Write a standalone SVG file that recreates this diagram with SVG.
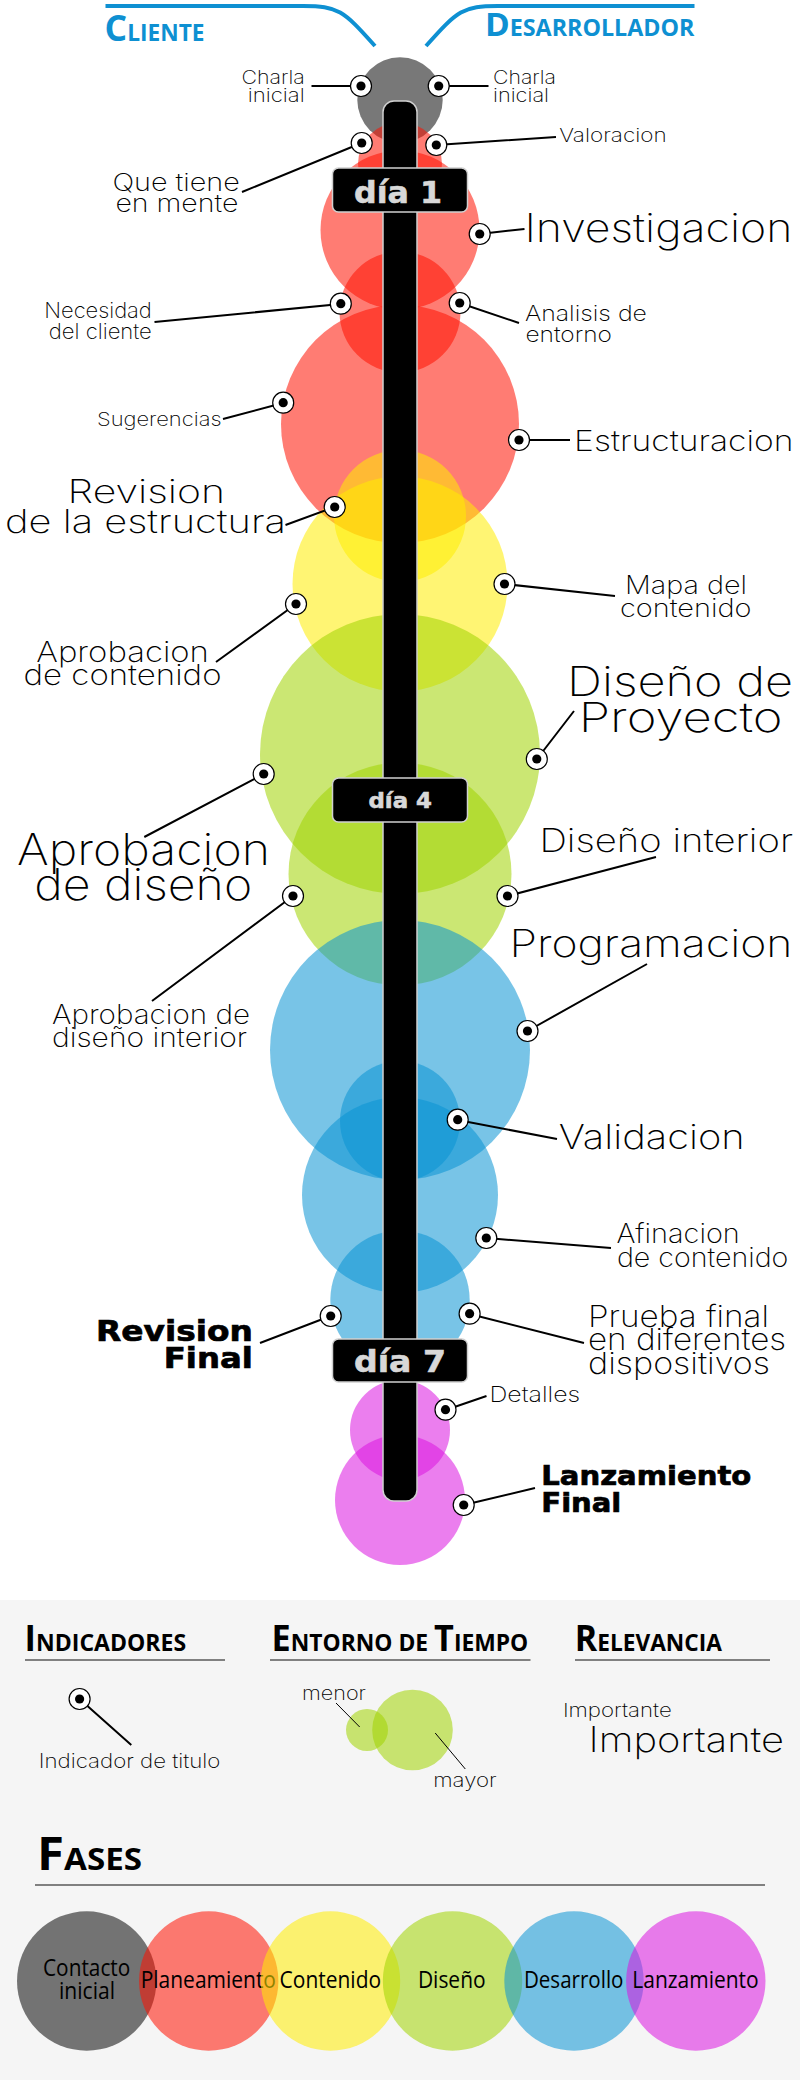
<svg xmlns="http://www.w3.org/2000/svg" width="800" height="2080" viewBox="0 0 800 2080">
<style>
text{font-family:"Inter","Liberation Sans",sans-serif;font-weight:200;fill:#000}
.h{font-family:"Open Sans","Liberation Sans",sans-serif;font-weight:700;fill:#000}
.top{fill:#0e90d2}
.b{font-family:"DejaVu Sans",sans-serif;font-weight:700;fill:#000;stroke:#000;stroke-width:.7}
.d{font-family:"DejaVu Sans",sans-serif;font-weight:700;fill:#d8d8d8;stroke:#d8d8d8;stroke-width:.6}
.f{font-family:"Open Sans","Liberation Sans",sans-serif;font-weight:400;fill:#000;font-size:24px}
.r{fill:#ff1100;fill-opacity:.55}.y{fill:#ffec00;fill-opacity:.55}.g{fill:#a0d400;fill-opacity:.55}.bl{fill:#0a93d3;fill-opacity:.55}.p{fill:#da14e0;fill-opacity:.55}.k{fill:#000;fill-opacity:.53}
.l{stroke:#000;stroke-width:2;fill:none}
.t{stroke:#000;stroke-width:1;fill:none}
.rule{stroke:#808080;stroke-width:2}
.pill{fill:#000;stroke:#d0d0d0;stroke-width:1.5}
</style>
<defs><g id="m"><circle r="10.5" fill="#fff" stroke="#000" stroke-width="1.2"/><circle r="4.600" fill="#000"/></g></defs>

<rect id="legend-panel" x="0" y="1600" width="800" height="480" fill="#f5f5f5"/>

<g id="phase-circles">
<circle class="k" cx="400" cy="100" r="42.700"/>
<circle class="r" cx="400" cy="164" r="42"/>
<circle class="r" cx="400" cy="230" r="79.500"/>
<circle class="r" cx="400" cy="312" r="60.500"/>
<circle class="r" cx="400" cy="424" r="119"/>
<circle class="y" cx="400" cy="516" r="66"/>
<circle class="y" cx="400" cy="584" r="107.500"/>
<circle class="g" cx="400" cy="754" r="140"/>
<circle class="g" cx="400" cy="874" r="111.500"/>
<circle class="bl" cx="400" cy="1050" r="130"/>
<circle class="bl" cx="400" cy="1121" r="60"/>
<circle class="bl" cx="400" cy="1195" r="98"/>
<circle class="bl" cx="400" cy="1300" r="69.700"/>
<circle class="p" cx="400" cy="1430" r="50"/>
<circle class="p" cx="400" cy="1500" r="65"/>
</g>

<g id="timeline">
<rect x="383" y="101" width="34" height="1400" rx="11" fill="#000" stroke="#d0d0d0" stroke-width="1.5"/>
</g>

<g id="connectors">
<path d="M105.500 6H303C338 6 343 10 375 46" fill="none" stroke="#0e90d2" stroke-width="4"/>
<path d="M426 46C458 10 463 6 498 6H694.500" fill="none" stroke="#0e90d2" stroke-width="4"/>
<path class="l" d="M311.500 86H361M438.700 86H488.500M242 192L361.500 143M436.300 145L556 137M479.600 234L524.500 229M154.500 322L340.500 304M459.700 303L519 323M223 419L283 403M519 440H570M334.500 507L285.500 525M504.500 584L615 596M296 604L216 662M537 759L574 711M263.700 774L144.300 837M507.500 896L656 857M293 896L152 1001M527.500 1031L647 964M457.700 1120L557 1139M486.500 1238L611 1248M330.500 1316L260 1343M469.600 1314L584 1343M445.700 1410L486.500 1396M463.700 1505L535 1488M79.600 1699L131.300 1745"/>
</g>

<g id="cliente"><text class="h top" x="104.500" y="41" textLength="100" lengthAdjust="spacingAndGlyphs" font-size="23"><tspan font-size="36">C</tspan>LIENTE</text></g>
<g id="desarrollador"><text class="h top" x="485" y="36" textLength="209.500" lengthAdjust="spacingAndGlyphs" font-size="23"><tspan font-size="33">D</tspan>ESARROLLADOR</text></g>

<g id="dia-1"><rect class="pill" x="332.500" y="168" width="135" height="44" rx="6"/><text class="d" x="354" y="202.500" font-size="30" textLength="88" lengthAdjust="spacingAndGlyphs">día 1</text></g>
<g id="dia-4"><rect class="pill" x="332.500" y="778" width="135" height="44" rx="6"/><text class="d" x="368.500" y="808" font-size="21" textLength="63.500" lengthAdjust="spacingAndGlyphs">día 4</text></g>
<g id="dia-7"><rect class="pill" x="332.500" y="1339" width="135" height="43" rx="6"/><text class="d" x="354" y="1372" font-size="30" textLength="92" lengthAdjust="spacingAndGlyphs">día 7</text></g>

<g id="n-charla-l"><use href="#m" x="361" y="86"/><text x="241.500" y="84" font-size="19" textLength="63.300" lengthAdjust="spacingAndGlyphs">Charla</text><text x="247.700" y="101.700" font-size="19" textLength="57" lengthAdjust="spacingAndGlyphs">inicial</text></g>
<g id="n-charla-r"><use href="#m" x="438.700" y="86"/><text x="493" y="84" font-size="19" textLength="63" lengthAdjust="spacingAndGlyphs">Charla</text><text x="493" y="101.700" font-size="19" textLength="56" lengthAdjust="spacingAndGlyphs">inicial</text></g>
<g id="n-que-tiene"><use href="#m" x="361.700" y="143"/><text x="112.400" y="191" font-size="24" textLength="127.400" lengthAdjust="spacingAndGlyphs">Que tiene</text><text x="115.400" y="212" font-size="24" textLength="123" lengthAdjust="spacingAndGlyphs">en mente</text></g>
<g id="n-valoracion"><use href="#m" x="436.300" y="145"/><text x="559.200" y="142.300" font-size="19" textLength="107.500" lengthAdjust="spacingAndGlyphs">Valoracion</text></g>
<g id="n-investigacion"><use href="#m" x="479.700" y="234"/><text x="524.400" y="241.700" font-size="39" textLength="268" lengthAdjust="spacingAndGlyphs">Investigacion</text></g>
<g id="n-necesidad"><use href="#m" x="340.800" y="303.700"/><text x="44.300" y="318" font-size="21" textLength="107.500" lengthAdjust="spacingAndGlyphs">Necesidad</text><text x="48.800" y="339" font-size="21" textLength="103" lengthAdjust="spacingAndGlyphs">del cliente</text></g>
<g id="n-analisis"><use href="#m" x="459.700" y="303"/><text x="524.900" y="321.300" font-size="22" textLength="122" lengthAdjust="spacingAndGlyphs">Analisis de</text><text x="525.400" y="342" font-size="22" textLength="86.600" lengthAdjust="spacingAndGlyphs">entorno</text></g>
<g id="n-sugerencias"><use href="#m" x="283.200" y="402.700"/><text x="97" y="426" font-size="19" textLength="124.500" lengthAdjust="spacingAndGlyphs">Sugerencias</text></g>
<g id="n-estructuracion"><use href="#m" x="519" y="440"/><text x="574.100" y="450.700" font-size="29" textLength="219.400" lengthAdjust="spacingAndGlyphs">Estructuracion</text></g>
<g id="n-revision"><use href="#m" x="334.700" y="507"/><text x="67.600" y="503" font-size="33" textLength="157.500" lengthAdjust="spacingAndGlyphs">Revision</text><text x="5" y="533" font-size="33" textLength="281" lengthAdjust="spacingAndGlyphs">de la estructura</text></g>
<g id="n-mapa"><use href="#m" x="504.500" y="584"/><text x="625" y="594" font-size="25" textLength="122" lengthAdjust="spacingAndGlyphs">Mapa del</text><text x="620" y="617" font-size="25" textLength="131.500" lengthAdjust="spacingAndGlyphs">contenido</text></g>
<g id="n-aprob-contenido"><use href="#m" x="296" y="604"/><text x="36.300" y="661.700" font-size="28" textLength="172.600" lengthAdjust="spacingAndGlyphs">Aprobacion</text><text x="23.500" y="685" font-size="28" textLength="198" lengthAdjust="spacingAndGlyphs">de contenido</text></g>
<g id="n-diseno-proyecto"><use href="#m" x="536.800" y="759"/><text x="567.100" y="696" font-size="41" textLength="226" lengthAdjust="spacingAndGlyphs">Diseño de</text><text x="578.700" y="731.700" font-size="41" textLength="204" lengthAdjust="spacingAndGlyphs">Proyecto</text></g>
<g id="n-aprob-diseno"><use href="#m" x="263.700" y="774"/><text x="17" y="865" font-size="43" textLength="253" lengthAdjust="spacingAndGlyphs">Aprobacion</text><text x="34.200" y="900" font-size="43" textLength="218" lengthAdjust="spacingAndGlyphs">de diseño</text></g>
<g id="n-diseno-interior"><use href="#m" x="507.500" y="896"/><text x="539.400" y="851.700" font-size="33" textLength="253.600" lengthAdjust="spacingAndGlyphs">Diseño interior</text></g>
<g id="n-aprob-interior"><use href="#m" x="293" y="896"/><text x="52" y="1024" font-size="27" textLength="198" lengthAdjust="spacingAndGlyphs">Aprobacion de</text><text x="52" y="1047" font-size="27" textLength="195" lengthAdjust="spacingAndGlyphs">diseño interior</text></g>
<g id="n-programacion"><use href="#m" x="527.500" y="1031"/><text x="509.400" y="957" font-size="38" textLength="283" lengthAdjust="spacingAndGlyphs">Programacion</text></g>
<g id="n-validacion"><use href="#m" x="457.700" y="1119.700"/><text x="558.700" y="1149" font-size="34" textLength="186" lengthAdjust="spacingAndGlyphs">Validacion</text></g>
<g id="n-afinacion"><use href="#m" x="486.300" y="1238"/><text x="616.400" y="1242.700" font-size="27" textLength="123.400" lengthAdjust="spacingAndGlyphs">Afinacion</text><text x="616.900" y="1266.700" font-size="27" textLength="171.500" lengthAdjust="spacingAndGlyphs">de contenido</text></g>
<g id="n-revision-final"><use href="#m" x="330.700" y="1316"/><text class="b" x="96" y="1341" font-size="29" textLength="156.800" lengthAdjust="spacingAndGlyphs">Revision</text><text class="b" x="163.800" y="1368" font-size="29" textLength="89" lengthAdjust="spacingAndGlyphs">Final</text></g>
<g id="n-prueba"><use href="#m" x="469.600" y="1313.700"/><text x="588" y="1326.700" font-size="30" textLength="181" lengthAdjust="spacingAndGlyphs">Prueba final</text><text x="588" y="1350" font-size="30" textLength="198" lengthAdjust="spacingAndGlyphs">en diferentes</text><text x="588" y="1374" font-size="30" textLength="182" lengthAdjust="spacingAndGlyphs">dispositivos</text></g>
<g id="n-detalles"><use href="#m" x="445.500" y="1409.700"/><text x="489.500" y="1402" font-size="21" textLength="90.600" lengthAdjust="spacingAndGlyphs">Detalles</text></g>
<g id="n-lanzamiento"><use href="#m" x="463.700" y="1505"/><text class="b" x="541.300" y="1485" font-size="27" textLength="210" lengthAdjust="spacingAndGlyphs">Lanzamiento</text><text class="b" x="541.300" y="1511.700" font-size="27" textLength="80" lengthAdjust="spacingAndGlyphs">Final</text></g>

<g id="legend-indicadores">
<line class="rule" x1="25" y1="1660" x2="225" y2="1660"/>
<text class="h" x="24.600" y="1650.700" font-size="24" textLength="161.500" lengthAdjust="spacingAndGlyphs"><tspan font-size="36">I</tspan>NDICADORES</text>
<use href="#m" x="79.600" y="1699"/>
<text x="38.800" y="1768" font-size="20" textLength="181.500" lengthAdjust="spacingAndGlyphs">Indicador de titulo</text>
</g>
<g id="legend-entorno">
<line class="rule" x1="270" y1="1660" x2="530.500" y2="1660"/>
<text class="h" x="271.600" y="1650.700" font-size="24" textLength="256.700" lengthAdjust="spacingAndGlyphs"><tspan font-size="36">E</tspan>NTORNO DE <tspan font-size="36">T</tspan>IEMPO</text>
<circle class="g" cx="367" cy="1730" r="21"/>
<circle class="g" cx="412.500" cy="1730" r="40.300"/>
<path class="t" d="M336 1703L359.700 1727M435.200 1733L465.300 1769"/>
<text x="302" y="1700" font-size="19" textLength="64" lengthAdjust="spacingAndGlyphs">menor</text>
<text x="433.200" y="1787" font-size="19" textLength="63.500" lengthAdjust="spacingAndGlyphs">mayor</text>
</g>
<g id="legend-relevancia">
<line class="rule" x1="575" y1="1660" x2="770" y2="1660"/>
<text class="h" x="574.800" y="1650.700" font-size="24" textLength="147" lengthAdjust="spacingAndGlyphs"><tspan font-size="36">R</tspan>ELEVANCIA</text>
<text x="562.900" y="1717" font-size="19" textLength="108.800" lengthAdjust="spacingAndGlyphs">Importante</text>
<text x="588.500" y="1751.700" font-size="35" textLength="195.500" lengthAdjust="spacingAndGlyphs">Importante</text>
</g>

<g id="fases">
<text class="h" x="37" y="1870" font-size="31" textLength="105" lengthAdjust="spacingAndGlyphs"><tspan font-size="46">F</tspan>ASES</text>
<line class="rule" x1="35" y1="1885" x2="765" y2="1885"/>
<g id="f-contacto"><circle class="k" cx="86.700" cy="1981" r="69.700"/><text class="f" x="43" y="1976" textLength="87.300" lengthAdjust="spacingAndGlyphs">Contacto</text><text class="f" x="59" y="1999.300" textLength="56" lengthAdjust="spacingAndGlyphs">inicial</text></g>
<g id="f-planeamiento"><circle class="r" cx="208.700" cy="1981" r="69.700"/><text class="f" x="140.700" y="1987.500" textLength="135.300" lengthAdjust="spacingAndGlyphs">Planeamiento</text></g>
<g id="f-contenido"><circle class="y" cx="330.500" cy="1981" r="69.700"/><text class="f" x="279.600" y="1987.500" textLength="101.500" lengthAdjust="spacingAndGlyphs">Contenido</text></g>
<g id="f-diseno"><circle class="g" cx="452.500" cy="1981" r="69.700"/><text class="f" x="417.900" y="1987.500" textLength="67.700" lengthAdjust="spacingAndGlyphs">Diseño</text></g>
<g id="f-desarrollo"><circle class="bl" cx="574" cy="1981" r="69.700"/><text class="f" x="523.900" y="1987.500" textLength="99.600" lengthAdjust="spacingAndGlyphs">Desarrollo</text></g>
<g id="f-lanzamiento"><circle class="p" cx="695.800" cy="1981" r="69.700"/><text class="f" x="632.300" y="1987.500" textLength="126.400" lengthAdjust="spacingAndGlyphs">Lanzamiento</text></g>
</g>
</svg>
